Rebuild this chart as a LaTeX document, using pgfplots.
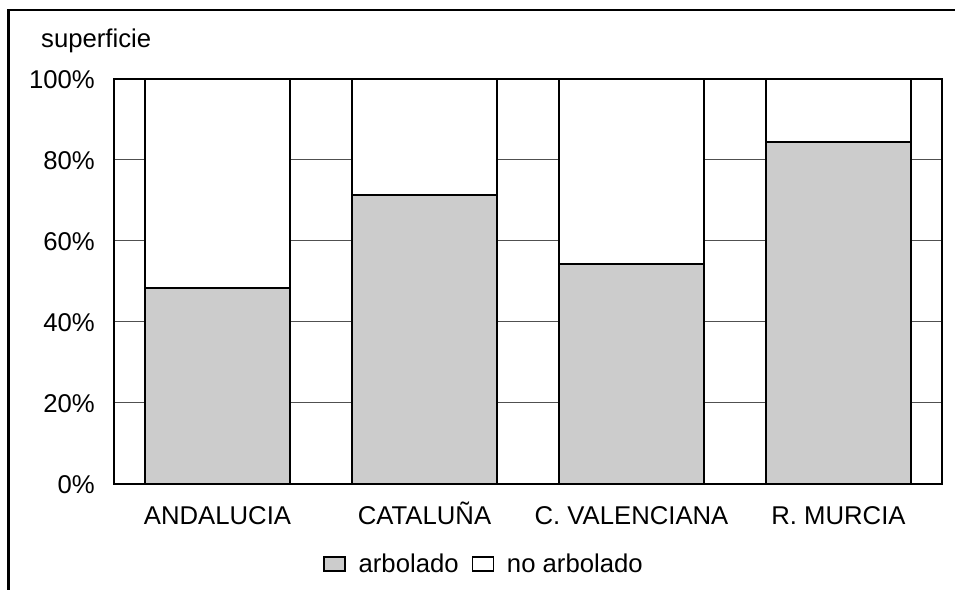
\documentclass[border=0pt]{standalone}
\usepackage{pgfplots}
\pgfplotsset{compat=1.18}
\usepackage{fontspec}
\setmainfont{Liberation Sans}
\definecolor{barg}{RGB}{204,204,204}
\definecolor{gridc}{RGB}{80,80,80}
\begin{document}
\begin{tikzpicture}[font=\fontsize{25.8}{30}\selectfont]
\useasboundingbox (0,0) rectangle (955bp,590bp);
\draw[line width=2.2bp] (8.5bp,0) -- (8.5bp,580bp) -- (955bp,580bp);
\begin{axis}[
  at={(114bp,106bp)}, anchor=south west,
  scale only axis, width=828bp, height=405bp,
  xmin=-0.5, xmax=3.5, ymin=0, ymax=100,
  ybar stacked, bar width=0.696,
  xtick={0,1,2,3},
  xticklabels={ANDALUCIA,CATALUÑA,C. VALENCIANA,R. MURCIA},
  ytick={0,20,40,60,80,100},
  yticklabels={0\%,20\%,40\%,60\%,80\%,100\%},
  /pgf/number format/assume math mode=true,
  major tick length=0pt,
  ymajorgrids, grid style={gridc, line width=1bp},
  axis line style={black, line width=1.5bp},
  x tick label style={anchor=base, yshift=-40bp, inner sep=0pt},
  y tick label style={anchor=base east, xshift=-19bp, yshift=-10bp, inner sep=0pt},
  legend style={draw=none, fill=none, at={(axis description cs:0.4457,-0.1975)}, anchor=center,
    legend columns=2,
    /tikz/every odd column/.append style={column sep=13bp},
    /tikz/every even column/.append style={column sep=13bp},
    nodes={inner sep=0pt}},
  legend image code/.code={\draw[#1, line width=1.3bp] (0bp,-7bp) rectangle (21bp,7bp);},
  clip=false,
]
\addplot[fill=barg, draw=black, line width=2bp] coordinates {(0,48.4) (1,71.4) (2,54.2) (3,84.5)};
\addplot[fill=white, draw=black, line width=2bp] coordinates {(0,51.6) (1,28.6) (2,45.8) (3,15.5)};
\legend{arbolado, no arbolado}
\node[anchor=base west, inner sep=0pt, xshift=-73bp, yshift=31bp] at (rel axis cs:0,1) {superficie};
\end{axis}
\end{tikzpicture}
\end{document}
